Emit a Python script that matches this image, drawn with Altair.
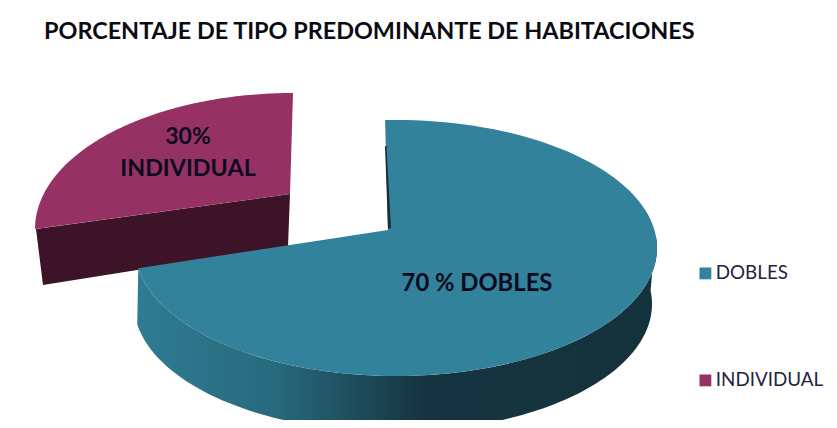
import math
import altair as alt

# --- data ---
CATEGORIES = ["DOBLES", "INDIVIDUAL"]
SHARES = [70, 30]
COLORS = ["#33829b", "#963263"]
TITLE = "PORCENTAJE DE TIPO PREDOMINANTE DE HABITACIONES"
LABELS = [
    ("70 % DOBLES", 477, 284, 23.8),
    ("30%", 188, 137, 23),
    ("INDIVIDUAL", 188, 169, 23.3),
]

PAD_LEFT, PAD_TOP = 8, 48   # page origin of plot area, in reference pixels


def pt(x, y):
    return [x - PAD_LEFT, y - PAD_TOP]


def ell(cx, cy, rx, ry, t):
    a = math.radians(t)
    return pt(cx + rx * math.sin(a), cy - ry * math.cos(a))


def feature(name, ring):
    ring = ring + [ring[0]]
    return {"type": "Feature", "properties": {"name": name},
            "geometry": {"type": "Polygon", "coordinates": [ring]}}


# Perspective: each wedge's sweep comes from its share, stretched by the view.
MAIN_START = -2.4
main_sweep = SHARES[0] * 3.6 * 1.045
main_end = MAIN_START + main_sweep
steps = 120
main_top = [pt(388, 230)] + [
    ell(396, 248, 261, 128, MAIN_START + main_sweep * i / steps) for i in range(steps + 1)
]
wall_start = 84
top_arc = [ell(396, 248, 261, 128, wall_start + (main_end - wall_start) * i / steps) for i in range(steps + 1)]
bot_arc = [ell(393, 304, 259, 128, wall_start + (main_end - wall_start) * i / steps) for i in range(steps + 1)]
main_wall = top_arc + bot_arc[::-1]

ind_sweep = SHARES[1] * 3.6 * 0.833
ind_arc = [ell(293, 229, 258, 136, 360 - ind_sweep * i / steps) for i in range(steps + 1)]
ind_top = [pt(290, 194)] + ind_arc
ind_wall = [pt(36, 229), pt(290, 194), pt(288, 246), pt(43, 285)]
notch_wall = [pt(385, 146), pt(386.5, 146), pt(391, 228), pt(388, 229)]

projection = alt.Projection(type="identity", scale=1, translate=[0, 0])


def shape(feat, fill):
    return alt.Chart(alt.Data(values=[feat])).mark_geoshape(
        color=fill, strokeWidth=0, clip=True
    ).project(**projection.to_dict())


main_gradient = alt.Gradient(
    gradient="linear", x1=0, y1=0, x2=1, y2=0,
    stops=[
        alt.GradientStop(color="#2f7c92", offset=0),
        alt.GradientStop(color="#27697d", offset=0.27),
        alt.GradientStop(color="#16343f", offset=0.55),
        alt.GradientStop(color="#14323c", offset=1),
    ],
)

tops = alt.Chart(alt.Data(values=[
    feature(CATEGORIES[1], ind_top),
    feature(CATEGORIES[0], main_top),
])).mark_geoshape(strokeWidth=0, clip=True).encode(
    color=alt.Color(
        "properties.name:N",
        scale=alt.Scale(domain=CATEGORIES, range=COLORS),
        legend=alt.Legend(
            title=None, orient="none", legendX=688, legendY=216,
            symbolType="square", symbolSize=140, symbolStrokeWidth=0,
            symbolOpacity=1, labelFont="Lato", labelFontSize=18.8,
            labelColor="#1f2440", rowPadding=87, labelOffset=1,
            labelLimit=200,
        ),
    )
).project(**projection.to_dict())

layers = [
    shape(feature("ind wall", ind_wall), "#3d1427"),
    shape(feature("main wall", main_wall), main_gradient),
    tops,
    shape(feature("notch", notch_wall), "#14323c"),
]
for text, x, y, size in LABELS:
    layers.append(
        alt.Chart(alt.Data(values=[{"t": text}])).mark_text(
            font="Lato", fontWeight="bold", fontSize=size, color="#0b0b20",
            align="center", baseline="middle",
        ).encode(text="t:N", x=alt.value(x - PAD_LEFT), y=alt.value(y - PAD_TOP))
    )

chart = alt.layer(*layers).properties(
    width=821,
    height=372,
    padding={"left": 0, "top": 40, "right": 0, "bottom": 0},
    autosize=alt.AutoSizeParams(type="none"),
    title=alt.TitleParams(
        TITLE, anchor="start", frame="group", dx=36, offset=4,
        font="Lato", fontWeight="bold", fontSize=23.4, color="#0b0b14",
    ),
).configure_view(stroke=None)

chart.save("out.html", embed_options={"renderer": "svg", "actions": False})
